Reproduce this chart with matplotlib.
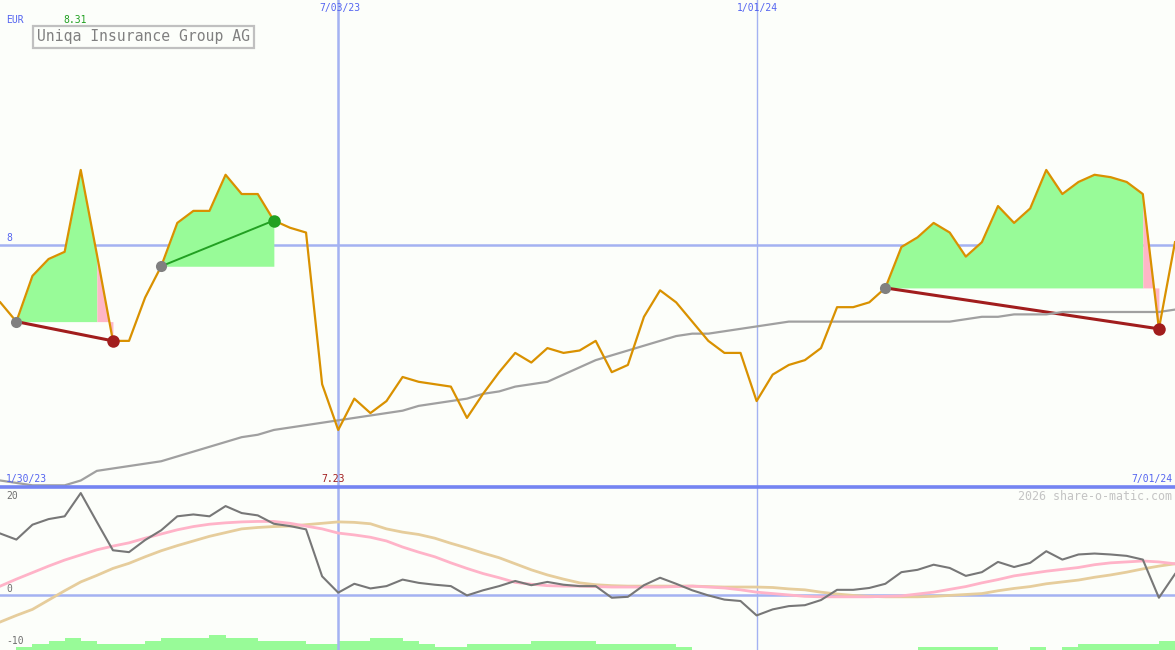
import numpy as np
import pandas as pd
import matplotlib
matplotlib.use("Agg")
import matplotlib.pyplot as plt

# weekly closes, EUR
weeks = pd.date_range("2023-02-06", periods=74, freq="W-MON")
price = [7.76, 7.68, 7.87, 7.94, 7.97, 8.31, 7.96, 7.60, 7.60, 7.78,
         7.91, 8.09, 8.14, 8.14, 8.29, 8.21, 8.21, 8.10, 8.07, 8.05,
         7.42, 7.23, 7.36, 7.30, 7.35, 7.45, 7.43, 7.42, 7.41, 7.28,
         7.38, 7.47, 7.55, 7.51, 7.57, 7.55, 7.56, 7.60, 7.47, 7.50,
         7.70, 7.81, 7.76, 7.68, 7.60, 7.55, 7.55, 7.35, 7.46, 7.50,
         7.52, 7.57, 7.74, 7.74, 7.76, 7.82, 7.99, 8.03, 8.09, 8.05,
         7.95, 8.01, 8.16, 8.09, 8.15, 8.31, 8.21, 8.26, 8.29, 8.28,
         8.26, 8.21, 7.65, 8.01]
avg_long = [7.02, 7.01, 7.00, 7.00, 7.00, 7.02, 7.06, 7.07, 7.08, 7.09,
            7.10, 7.12, 7.14, 7.16, 7.18, 7.20, 7.21, 7.23, 7.24, 7.25,
            7.26, 7.27, 7.28, 7.29, 7.30, 7.31, 7.33, 7.34, 7.35, 7.36,
            7.38, 7.39, 7.41, 7.42, 7.43, 7.46, 7.49, 7.52, 7.54, 7.56,
            7.58, 7.60, 7.62, 7.63, 7.63, 7.64, 7.65, 7.66, 7.67, 7.68,
            7.68, 7.68, 7.68, 7.68, 7.68, 7.68, 7.68, 7.68, 7.68, 7.68,
            7.69, 7.70, 7.70, 7.71, 7.71, 7.71, 7.72, 7.72, 7.72, 7.72,
            7.72, 7.72, 7.72, 7.73]

# oscillator panel
momentum = [13.2, 11.9, 15.1, 16.3, 16.9, 21.9, 15.7, 9.6, 9.2, 11.8,
            13.9, 16.9, 17.3, 16.9, 19.1, 17.6, 17.1, 15.3, 14.8, 14.1,
            4.0, 0.5, 2.4, 1.4, 1.9, 3.3, 2.6, 2.2, 1.9, -0.1,
            1.0, 1.9, 3.0, 2.1, 2.8, 2.2, 1.9, 1.9, -0.6, -0.4,
            2.1, 3.7, 2.4, 1.0, -0.1, -1.0, -1.3, -4.4, -3.1, -2.4,
            -2.2, -1.1, 1.1, 1.1, 1.5, 2.4, 4.9, 5.4, 6.5, 5.8,
            4.1, 4.9, 7.1, 6.0, 6.9, 9.4, 7.6, 8.7, 8.9, 8.7,
            8.4, 7.6, -0.6, 4.5]
mom_fast = [1.9, 3.4, 4.8, 6.2, 7.5, 8.6, 9.7, 10.5, 11.2, 12.2,
            13.1, 14.0, 14.7, 15.2, 15.5, 15.7, 15.8, 15.8, 15.4, 14.8,
            14.2, 13.3, 12.9, 12.4, 11.6, 10.3, 9.2, 8.2, 6.9, 5.7,
            4.6, 3.7, 2.7, 2.3, 2.0, 1.9, 1.9, 1.8, 1.7, 1.7,
            1.7, 1.7, 1.8, 1.9, 1.7, 1.5, 1.1, 0.6, 0.3, 0.0,
            -0.3, -0.4, -0.4, -0.4, -0.4, -0.3, -0.2, 0.2, 0.6, 1.2,
            1.8, 2.6, 3.3, 4.1, 4.6, 5.1, 5.5, 5.9, 6.5, 6.9,
            7.1, 7.3, 7.1, 6.7]
mom_slow = [-5.8, -4.4, -3.1, -1.1, 0.9, 2.8, 4.2, 5.7, 6.8, 8.2,
            9.5, 10.6, 11.6, 12.6, 13.4, 14.2, 14.5, 14.7, 14.8, 15.1,
            15.4, 15.7, 15.6, 15.3, 14.2, 13.5, 13.0, 12.2, 11.1, 10.1,
            9.0, 8.0, 6.7, 5.4, 4.3, 3.4, 2.6, 2.2, 2.0, 1.9,
            1.9, 1.9, 1.9, 1.9, 1.8, 1.7, 1.7, 1.7, 1.6, 1.3,
            1.1, 0.6, 0.2, -0.1, -0.3, -0.4, -0.4, -0.4, -0.3, -0.1,
            0.1, 0.3, 0.9, 1.4, 1.8, 2.4, 2.8, 3.2, 3.8, 4.3,
            4.9, 5.6, 6.2, 6.7]
volume = [0, 1, 2, 3, 4, 3, 2, 2, 2, 3,
          4, 4, 4, 5, 4, 4, 3, 3, 3, 2,
          2, 3, 3, 4, 4, 3, 2, 1, 1, 2,
          2, 2, 2, 3, 3, 3, 3, 2, 2, 2,
          2, 2, 1, 0, 0, 0, 0, 0, 0, 0,
          0, 0, 0, 0, 0, 0, 0, 1, 1, 1,
          1, 1, 0, 0, 1, 0, 1, 2, 2, 2,
          2, 2, 3, 0]

# signals: entry week, last week in profit, exit week, result
sig_start = [1, 10, 55]
sig_green_end = [6, 17, 71]
sig_exit = [7, 17, 72]
sig_win = [False, True, False]

BG = "#fcfefa"
BLUE = "#5464f0"
GRID = "#a4b2f2"
plt.rcParams["font.family"] = ["DejaVu Sans Mono"]

fig = plt.figure(figsize=(11.75, 6.5), dpi=100, facecolor=BG)
ax1 = fig.add_axes([0, 163 / 650, 1, 487 / 650], facecolor=BG)
ax2 = fig.add_axes([0, 0, 1, 163 / 650], facecolor=BG)
ax3 = ax2.twinx()

x_left = weeks[0] - pd.Timedelta(hours=3)
x_right = weeks[-1]
d_jul = pd.Timestamp("2023-07-03")
d_jan = pd.Timestamp("2024-01-01")

# --- price panel ---
ax1.axhline(8, color=GRID, lw=1.8, zorder=1)
ax1.axvline(d_jul, color=GRID, lw=1.8, zorder=1)
ax1.axvline(d_jan, color=GRID, lw=1, zorder=1)

for s, g, e, win in zip(sig_start, sig_green_end, sig_exit, sig_win):
    base = price[s]
    ax1.fill_between(weeks[s:g + 1], price[s:g + 1], base, color="#98fb98", lw=0, zorder=2)
    if e > g:
        ax1.fill_between(weeks[g:e + 1], price[g:e + 1], base, color="#ffb6c6", lw=0, zorder=2)
    c = "#22a022" if win else "#a11d1d"
    ax1.plot([weeks[s], weeks[e]], [price[s], price[e]], color=c,
             lw=1.4 if win else 2.2, zorder=3)

ax1.plot(weeks, avg_long, color="#a0a0a0", lw=1.6, zorder=3)
ax1.plot(weeks, price, color="#d99100", lw=1.6, zorder=4)

for s, e, win in zip(sig_start, sig_exit, sig_win):
    ax1.plot(weeks[s], price[s], "o", color="#808080", ms=8, mew=0, zorder=5)
    ax1.plot(weeks[e], price[e], "o", color="#22a022" if win else "#a11d1d",
             ms=9, mew=0, zorder=5)

ax1.set_xlim(x_left, x_right)
ax1.set_ylim(6.993, 9.016)

# --- oscillator panel ---
ax3.bar(weeks, volume, width=7, align="edge", color="#98fb98", lw=0, zorder=1)
ax3.set_ylim(0, 53.4)
ax3.set_zorder(ax2.get_zorder() - 1)
ax2.patch.set_visible(False)
ax3.patch.set_facecolor(BG)
ax3.patch.set_visible(True)

ax2.axhline(0, color=GRID, lw=1.8, zorder=1)
ax2.axvline(d_jul, color=GRID, lw=1.8, zorder=1)
ax2.axvline(d_jan, color=GRID, lw=1, zorder=1)
ax2.plot(weeks, mom_slow, color="#e6cd9c", lw=2, zorder=2)
ax2.plot(weeks, mom_fast, color="#ffb3c8", lw=2, zorder=3)
ax2.plot(weeks, momentum, color="#777777", lw=1.5, zorder=4)
ax2.axhline(23.2, color="#7484f2", lw=2.6, zorder=5, clip_on=False)
ax2.set_xlim(x_left, x_right)
ax2.set_ylim(-11.83, 23.2)

for a in (ax1, ax2, ax3):
    a.set_xticks([])
    a.set_yticks([])
    for sp in a.spines.values():
        sp.set_visible(False)


def label(x, y, s, color, size=7, ha="left"):
    fig.text(x / 1175, 1 - y / 650, s, color=color, fontsize=size, ha=ha, va="center")


label(6, 20, "EUR", BLUE)
label(63, 20, "8.31", "#20a020")
label(340, 8, "7/03/23", BLUE, ha="center")
label(757, 8, "1/01/24", BLUE, ha="center")
label(6, 238, "8", BLUE)
label(6, 479, "1/30/23", BLUE)
label(333, 479, "7.23", "#a11d1d", ha="center")
label(1172, 479, "7/01/24", BLUE, ha="right")
label(1172, 496, "2026 share-o-matic.com", "#c4c4c4", size=8.4, ha="right")
label(6, 496, "20", "#707070")
label(6, 589, "0", "#707070")
label(6, 641, "-10", "#707070")

fig.text(37 / 1175, 1 - 37 / 650, "Uniqa Insurance Group AG", color="#808080",
         fontsize=10.6, ha="left", va="center",
         bbox=dict(boxstyle="square,pad=0.25", fc=BG, ec="#c0c0c0", lw=1.6))

fig.savefig("out.png", dpi=100, facecolor=BG)
